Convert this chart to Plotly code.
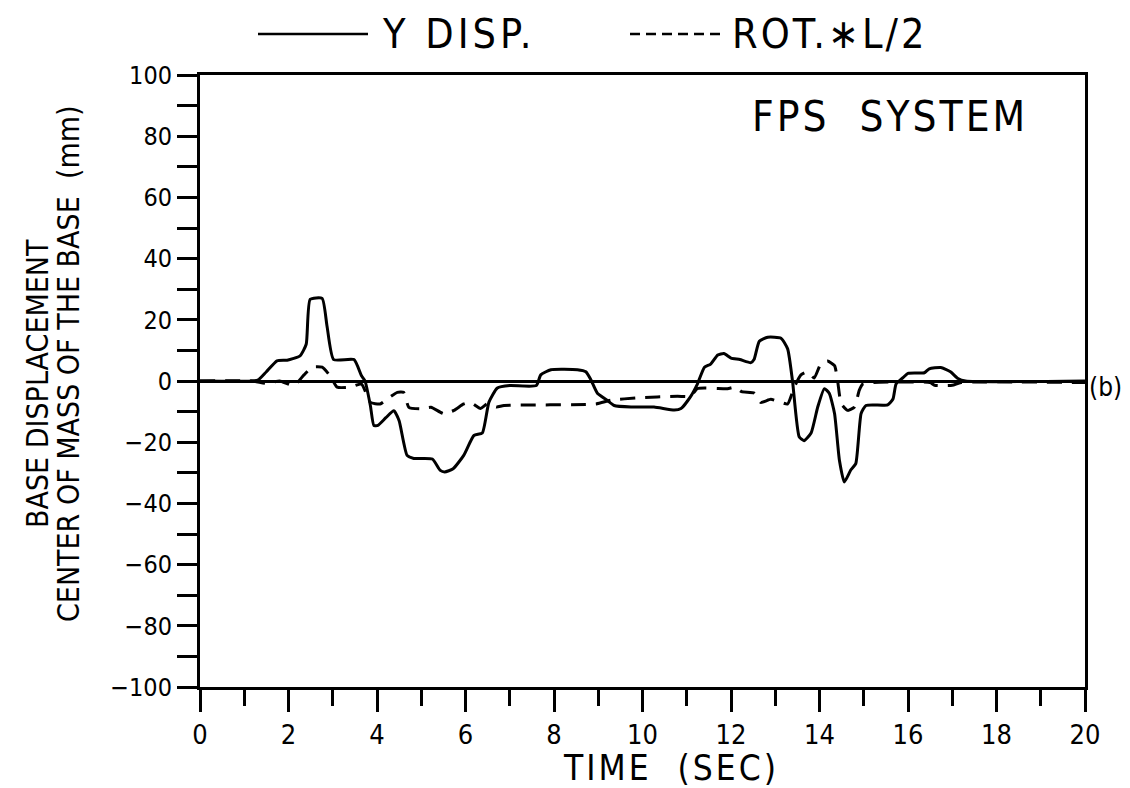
import plotly.graph_objects as go

# ---- data ----
t_ydisp = [0, 1.2, 1.33, 1.5, 1.74, 1.97, 2.26, 2.4, 2.49, 2.76, 2.87, 3.02, 3.48, 3.65, 3.73,
           3.85, 3.93, 4.02, 4.2, 4.38, 4.5, 4.68, 4.83, 5.25, 5.43, 5.53, 5.72, 5.96, 6.19,
           6.38, 6.53, 6.72, 7.0, 7.6, 7.7, 7.93, 8.53, 8.72, 8.83, 8.98, 9.2, 9.36, 9.74,
           10.26, 10.72, 10.87, 11.09, 11.24, 11.4, 11.54, 11.7, 11.84, 12.0, 12.2, 12.45,
           12.52, 12.64, 12.83, 13.13, 13.28, 13.39, 13.54, 13.65, 13.81, 13.96, 14.11, 14.22,
           14.34, 14.45, 14.56, 14.71, 14.82, 14.94, 15.05, 15.54, 15.66, 15.73, 15.88, 16.0,
           16.37, 16.48, 16.74, 16.96, 17.13, 17.3, 20]
y_disp = [0, 0, 0.5, 3, 6.6, 6.8, 8.2, 12, 26.7, 27, 18, 7, 7, 1.7, 0,
          -8, -14.6, -14.5, -12, -9.7, -13, -24.3, -25.3, -25.5, -29.2, -29.7, -28.7, -24.3, -17.8,
          -17, -6.9, -2.3, -1.5, -1.5, 2, 3.7, 3.7, 3, 0.5, -4, -6.3, -8, -8.5,
          -8.5, -9.5, -9, -5, -1, 4.5, 5.5, 8.5, 9, 7.5, 7, 6,
          7, 13, 14.3, 14, 10.5, 0, -18.2, -19.5, -17, -8.5, -2.5, -4,
          -10.6, -25.9, -33, -29, -27, -10.6, -8, -7.8, -5.9, -1, 1, 2.5,
          2.7, 4, 4.4, 3, 0.8, 0, 0]

t_rot = [0, 1.2, 1.5, 1.8, 2.12, 2.35, 2.53, 2.76, 2.95, 3.1, 3.4, 3.65, 3.85, 4.07, 4.22,
         4.46, 4.6, 4.72, 4.99, 5.22, 5.51, 5.74, 5.96, 6.11, 6.34, 6.49, 6.7, 6.87, 8.95,
         9.28, 9.88, 10.79, 11.09, 11.24, 11.92, 12.1, 12.24, 12.53, 12.67, 12.9, 13.13,
         13.28, 13.43, 13.58, 13.73, 13.88, 14.03, 14.18, 14.34, 14.41, 14.49, 14.64, 14.79,
         14.9, 14.98, 15.2, 16.5, 16.6, 17.0, 17.2, 20]
rot_l2 = [0, 0, -0.8, 0, -1.5, 2, 4.5, 4.5, 1.5, -2, -2, -1, -7, -7.5, -6,
          -3.7, -3.7, -8.6, -9.1, -8.6, -10.7, -9.6, -7.5, -7, -9, -7.5, -8.5, -8, -7.5,
          -6.3, -5.5, -5, -5, -2.5, -2.5, -2, -3.5, -4, -7, -6, -7,
          -7.5, -2, 2, 3, 1, 5.6, 6.5, 5, 0, -7.4, -9.6, -8.5,
          -3, -1, -0.5, -0.5, -1.4, -1.4, -0.5, -0.5]

x_ticks = list(range(0, 21, 2))
y_ticks = list(range(-100, 101, 20))
y_ticklabels = [str(v).replace('-', '\u2212') for v in y_ticks]

FONT = "DejaVu Sans Condensed, Liberation Sans Narrow, Liberation Sans, sans-serif"


def spaced(txt, px):
    return f'<span style="letter-spacing:{px}px">{txt}</span>'


fig = go.Figure()
fig.add_trace(go.Scatter(x=t_ydisp, y=y_disp, mode='lines', name='Y DISP.',
                         line=dict(color='black', width=3, shape='spline', smoothing=0.5)))
fig.add_trace(go.Scatter(x=t_rot, y=rot_l2, mode='lines', name='ROT.*L/2',
                         line=dict(color='black', width=3, dash='15px,10px',
                                   shape='spline', smoothing=0.5)))

axis_common = dict(showline=True, linecolor='black', linewidth=3, mirror=True,
                   showgrid=False, ticks='outside', tickcolor='black', tickwidth=3)

fig.update_xaxes(range=[0, 20], tickvals=x_ticks, ticklen=22,
                 tickfont=dict(family=FONT, size=27, color='black'),
                 minor=dict(dtick=1, ticks='outside', ticklen=16, tickwidth=3, tickcolor='black'),
                 zeroline=False, **axis_common)
fig.update_yaxes(range=[-100, 100], tickvals=y_ticks, ticktext=y_ticklabels, ticklen=20,
                 tickfont=dict(family=FONT, size=25, color='black'),
                 minor=dict(dtick=10, ticks='outside', ticklen=20, tickwidth=3, tickcolor='black'),
                 zeroline=True, zerolinecolor='black', zerolinewidth=3, **axis_common)

PW, PH = 885, 612
LEG_Y = 1 + 41 / PH
# legend drawn above the plot
fig.add_shape(type='line', xref='paper', yref='paper', x0=(250 - 192) / PW, x1=(360 - 192) / PW,
              y0=LEG_Y, y1=LEG_Y, line=dict(color='black', width=2.5))
fig.add_shape(type='line', xref='paper', yref='paper', x0=(622 - 192) / PW, x1=(712 - 192) / PW,
              y0=LEG_Y, y1=LEG_Y, line=dict(color='black', width=2.5, dash='10px,6px'))
fig.add_annotation(text=spaced('Y DISP.', 4), xref='paper', yref='paper', x=(372 - 192) / PW, y=LEG_Y,
                   xanchor='left', yanchor='middle', showarrow=False,
                   font=dict(family=FONT, size=41, color='black'))
fig.add_annotation(text=spaced('ROT.\u2217L/2', 3), xref='paper', yref='paper', x=(722 - 192) / PW, y=LEG_Y,
                   xanchor='left', yanchor='middle', showarrow=False,
                   font=dict(family=FONT, size=41, color='black'))

fig.add_annotation(text=spaced('FPS  SYSTEM', 3), xref='paper', yref='paper', x=(1022 - 192) / PW,
                   y=1 - 42 / PH, xanchor='right', yanchor='middle', showarrow=False,
                   font=dict(family=FONT, size=42, color='black'))
fig.add_annotation(text='(b)', xref='paper', yref='y', x=1.002, y=-2,
                   xanchor='left', yanchor='middle', showarrow=False,
                   font=dict(family=FONT, size=26, color='black'))
fig.add_annotation(text=spaced('TIME  (SEC)', 3), xref='paper', yref='paper', x=(663 - 192) / PW,
                   y=-(760 - 679) / PH, xanchor='center', yanchor='middle', showarrow=False,
                   font=dict(family=FONT, size=35, color='black'))
fig.add_annotation(text='BASE DISPLACEMENT', xref='paper', yref='paper', x=-(192 - 29) / PW,
                   y=(679 - 376) / PH, xanchor='center', yanchor='middle', textangle=-90,
                   showarrow=False, font=dict(family=FONT, size=30, color='black'))
fig.add_annotation(text='CENTER OF MASS OF THE BASE  (mm)', xref='paper', yref='paper',
                   x=-(192 - 60) / PW, y=(679 - 356) / PH, xanchor='center', yanchor='middle',
                   textangle=-90, showarrow=False, font=dict(family=FONT, size=30, color='black'))

fig.update_layout(width=1130, height=788, showlegend=False,
                  margin=dict(l=192, r=53, t=67, b=109),
                  paper_bgcolor='white', plot_bgcolor='white')

fig.write_html("out.html")
